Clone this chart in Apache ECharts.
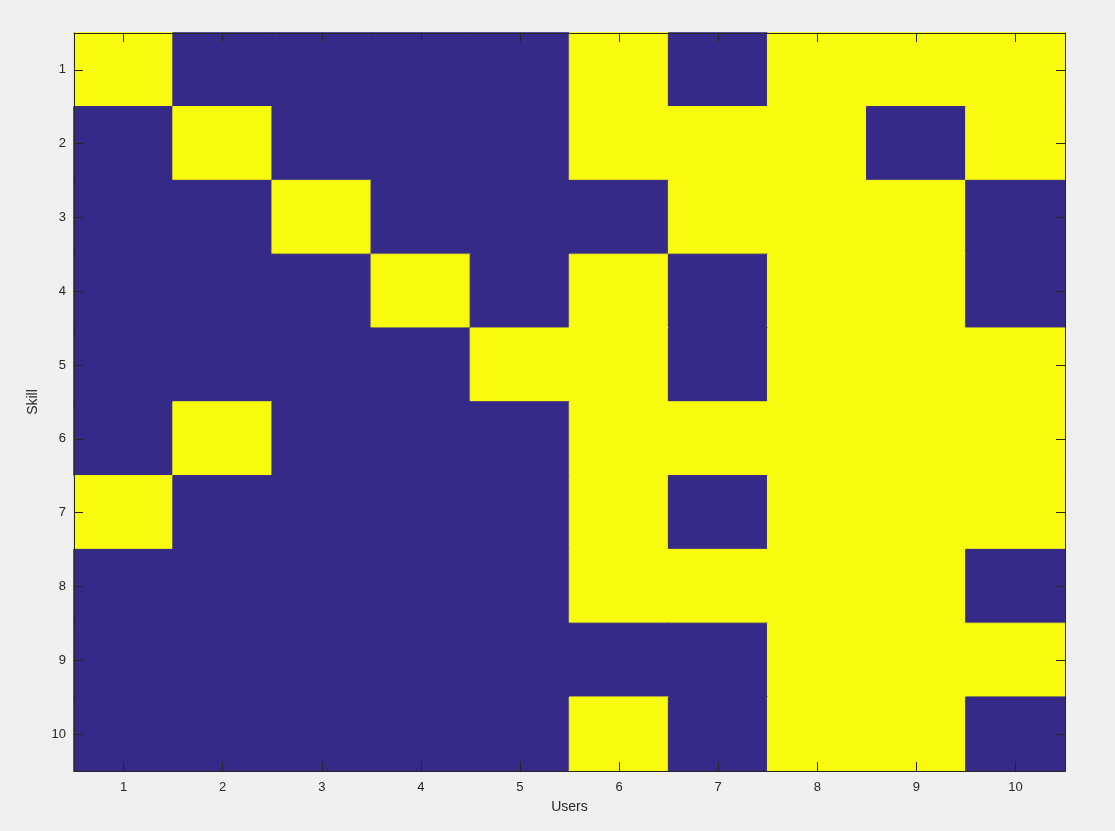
<!DOCTYPE html>
<html>
<head>
<meta charset="utf-8">
<title>Skill vs Users</title>
<script src="https://cdn.jsdelivr.net/npm/echarts@6/dist/echarts.min.js"></script>
<style>
  html, body { margin: 0; padding: 0; background: #f0f0f0; }
  #chart { width: 1115px; height: 831px; }
</style>
</head>
<body>
<div id="chart"></div>
<script>
  // users along x, skills along y (1 at top)
  var users = ['1', '2', '3', '4', '5', '6', '7', '8', '9', '10'];
  var skills = ['1', '2', '3', '4', '5', '6', '7', '8', '9', '10'];
  // 1 = has skill (yellow), 0 = not (blue); one row per skill
  var skill1  = [1, 0, 0, 0, 0, 1, 0, 1, 1, 1];
  var skill2  = [0, 1, 0, 0, 0, 1, 1, 1, 0, 1];
  var skill3  = [0, 0, 1, 0, 0, 0, 1, 1, 1, 0];
  var skill4  = [0, 0, 0, 1, 0, 1, 0, 1, 1, 0];
  var skill5  = [0, 0, 0, 0, 1, 1, 0, 1, 1, 1];
  var skill6  = [0, 1, 0, 0, 0, 1, 1, 1, 1, 1];
  var skill7  = [1, 0, 0, 0, 0, 1, 0, 1, 1, 1];
  var skill8  = [0, 0, 0, 0, 0, 1, 1, 1, 1, 0];
  var skill9  = [0, 0, 0, 0, 0, 0, 0, 1, 1, 1];
  var skill10 = [0, 0, 0, 0, 0, 1, 0, 1, 1, 0];
  var rows = [skill1, skill2, skill3, skill4, skill5, skill6, skill7, skill8, skill9, skill10];

  var blue = '#352a87';
  var yellow = '#f9fb0e';

  var cells = [];
  rows.forEach(function (row, y) {
    row.forEach(function (v, x) {
      var c = v ? yellow : blue;
      // border in the cell colour hides the seams between cells
      cells.push({ value: [x, y, v], itemStyle: { color: c, borderColor: c, borderWidth: 1 } });
    });
  });

  var axisColor = '#262626';
  var font = 'Liberation Sans, Arial, sans-serif';

  function xAxisOpt(pos, showLabel) {
    return {
      type: 'category',
      position: pos,
      data: users,
      z: 10,
      name: showLabel ? 'Users' : '',
      nameLocation: 'middle',
      nameGap: 29,
      nameTextStyle: { color: axisColor, fontSize: 14, fontFamily: font },
      axisLine: { show: true, lineStyle: { color: axisColor, width: 1 } },
      axisTick: { show: true, inside: true, length: 9, alignWithLabel: true, interval: 0,
                  lineStyle: { color: axisColor } },
      axisLabel: { show: showLabel, color: axisColor, fontSize: 13, fontFamily: font, margin: 10 },
      splitLine: { show: false }
    };
  }

  function yAxisOpt(pos, showLabel) {
    return {
      type: 'category',
      position: pos,
      data: skills,
      inverse: true,
      z: 10,
      name: showLabel ? 'Skill' : '',
      nameLocation: 'middle',
      nameGap: 22,
      nameTextStyle: { color: axisColor, fontSize: 14, fontFamily: font },
      axisLine: { show: true, lineStyle: { color: axisColor, width: 1 } },
      axisTick: { show: true, inside: true, length: 9, alignWithLabel: true, interval: 0,
                  lineStyle: { color: axisColor } },
      axisLabel: { show: showLabel, color: axisColor, fontSize: 13, fontFamily: font, margin: 8 },
      splitLine: { show: false }
    };
  }

  var chart = echarts.init(document.getElementById('chart'));
  chart.setOption({
    backgroundColor: '#f0f0f0',
    animation: false,
    grid: { left: 74, top: 33, width: 991, height: 738, containLabel: false },
    xAxis: [xAxisOpt('bottom', true), xAxisOpt('top', false)],
    yAxis: [yAxisOpt('left', true), yAxisOpt('right', false)],
    series: [{
      type: 'heatmap',
      xAxisIndex: 0,
      yAxisIndex: 0,
      data: cells,
      emphasis: { disabled: true }
    }]
  });
</script>
</body>
</html>
